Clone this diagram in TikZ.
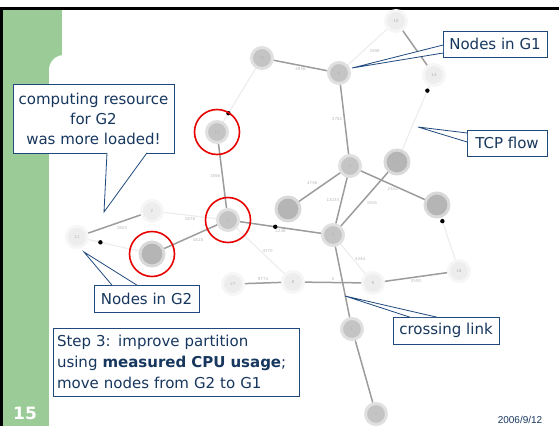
\documentclass[tikz,border=0pt]{standalone}
\usepackage{fontspec}
\setmainfont{DejaVu Sans}
\newfontfamily\datefont{Liberation Sans}
\usetikzlibrary{positioning, calc}
\definecolor{slidegreen}{RGB}{155,204,152}
\definecolor{navytext}{RGB}{23,55,94}
\definecolor{navyline}{RGB}{31,73,125}
\definecolor{ringred}{RGB}{230,0,0}

\tikzset{
  lightnode/.style={circle, fill=gray!14, draw=gray!7, line width=3pt, minimum size=21pt, inner sep=0pt, font=\fontsize{4}{4}\selectfont, text=gray!60},
  midnode/.style={lightnode, fill=gray!46, draw=gray!24},
  darknode/.style={lightnode, fill=gray!58, draw=gray!30, minimum size=24pt},
  darkedge/.style={draw=gray!78, line width=1.5pt},
  lightedge/.style={draw=gray!14, line width=1.2pt},
  elabel/.style={midway, font=\fontsize{4}{4}\selectfont, text=gray!55, inner sep=1.5pt},
  redring/.style={circle, draw=ringred, line width=1.6pt, minimum size=45pt},
  callbox/.style={draw=navyline, line width=0.8pt, fill=white, text=navytext, font=\fontsize{15}{20}\selectfont, inner sep=0pt, align=center},
  pointer/.style={draw=navyline, fill=white, line width=0.8pt}
}

\begin{document}
\begin{tikzpicture}[x=1pt, y=-1pt]
\useasboundingbox (0,0) rectangle (559,426);

% slide frame
\fill[slidegreen] (3,9) rectangle (62,426);
\fill[white, rounded corners=15pt] (49,440) -- (49,55) -- (95,55) -- (95,440) -- cycle;
\draw[line width=3pt] (0,8.5) -- (559,8.5);
\draw[line width=3pt] (1.5,7) -- (1.5,426);
\node[text=white, font=\fontsize{17}{17}\selectfont\bfseries] (pagenum) at (25,413) {15};
\node[text=navytext, font=\datefont\fontsize{10}{10}\selectfont] (date) at (520,420) {2006/9/12};

% graph nodes
\node[midnode]   (n20) at (262,58)  {10};
\node[midnode]   (n6)  at (339,73)  {6};
\node[lightnode] (n16) at (396,21)  {16};
\node[lightnode] (n14) at (434,75)  {14};
\node[midnode]   (n12) at (217,132) {12};
\node[midnode]   (n4)  at (350,166) {4};
\node[darknode]  (n23) at (397,162) {23};
\node[darknode]  (n30) at (437,205) {30};
\node[darknode]  (n26) at (288,209) {26};
\node[midnode]   (n3)  at (333,235) {3};
\node[midnode]   (n5)  at (228,220) {5};
\node[darknode]  (n15) at (152,254) {15};
\node[lightnode] (n11) at (77,237)  {11};
\node[lightnode] (n2)  at (152,211) {2};
\node[lightnode] (n27) at (233,284) {27};
\node[lightnode] (n8)  at (293,282) {8};
\node[lightnode] (n9)  at (373,283) {9};
\node[lightnode] (n18) at (459,271) {18};
\node[midnode]   (n1)  at (352,329) {1};
\node[midnode]   (n7)  at (376,414) {7};

% links
\foreach \a/\b in {n20/n12, n14/n23, n30/n18, n11/n15}
  \draw[lightedge] (\a) -- (\b);
\foreach \a/\b/\w/\anc in {n6/n16/3598/north west, n5/n2/1878/north, n5/n8/4770/west, n3/n9/4344/west}
  \draw[lightedge] (\a) -- (\b) node[elabel, anchor=\anc] {\w};
\foreach \a/\b/\w/\anc in {n20/n6/4956/north, n6/n4/2782/east, n12/n5/1656/east,
    n4/n26/4756/south east, n4/n3/13233/east, n4/n30/2514/north, n23/n3/1916/north west,
    n5/n3/2248/north, n5/n15/1828/north west, n2/n11/1823/north west,
    n27/n8/9774/south, n8/n9/5/south, n9/n18/5590/north}
  \draw[darkedge] (\a) -- (\b) node[elabel, anchor=\anc] {\w};
\draw[darkedge] (n16) -- (n14);
\draw[darkedge] (n3) -- (n1);
\draw[darkedge] (n1) -- (n7);

% flow heads
\fill ($(n12)!22pt!(n20)$) circle (2.2pt);
\fill ($(n14)!17pt!(n23)$) circle (2.2pt);
\fill ($(n30)!17pt!(n18)$) circle (2.2pt);
\fill ($(n11)!24pt!(n15)$) circle (2.2pt);
\fill ($(n5)!0.45!(n3)$) circle (2.2pt);

% moved nodes
\node[redring] (ring12) at (n12) {};
\node[redring] (ring5) at (n5) {};
\node[redring] (ring15) at (n15) {};

% callouts
\coordinate (loadtip) at (104,212);
\coordinate (g1tip) at (352,68);
\coordinate (tcptip) at (418,127);
\coordinate (g2tip) at (84,252);
\coordinate (crosstip) at (345,296);

\node[callbox, minimum width=161pt, minimum height=69pt] (load) at (93.5,118.5)
  {computing resource\\for G2\\was more loaded!};
\filldraw[pointer] ($(load.south)+(13.5,-0.6)$) -- (loadtip) -- ($(load.south)+(53.5,-0.6)$);

\node[callbox, minimum width=104pt, minimum height=26pt] (g1note) at (495,44) {Nodes in G1};
\filldraw[pointer] ($(g1note.west)+(0.6,1)$) -- (g1tip) -- ($(g1note.west)+(0.6,9)$);

\node[callbox, minimum width=80pt, minimum height=26pt] (tcpnote) at (507,143) {TCP flow};
\filldraw[pointer] ($(tcpnote.west)+(0.6,-10)$) -- (tcptip) -- ($(tcpnote.west)+(0.6,-1)$);

\node[callbox, minimum width=105pt, minimum height=27pt] (g2note) at (146.5,298.5) {Nodes in G2};
\filldraw[pointer] ($(g2note.north)+(-34.5,0.6)$) -- (g2tip) -- ($(g2note.north)+(-9.5,0.6)$);

\node[callbox, minimum width=106pt, minimum height=27pt] (crossnote) at (446,330.5) {crossing link};
\filldraw[pointer] ($(crossnote.north)+(-36,0.6)$) -- (crosstip) -- ($(crossnote.north)+(-9,0.6)$);

\node[callbox, minimum height=68pt, text width=238pt, inner xsep=4pt, align=left,
  font=\fontsize{15}{21}\selectfont] (step) at (176,362)
  {Step 3: improve partition\\using \textbf{measured CPU usage};\\move nodes from G2 to G1};
\end{tikzpicture}
\end{document}
